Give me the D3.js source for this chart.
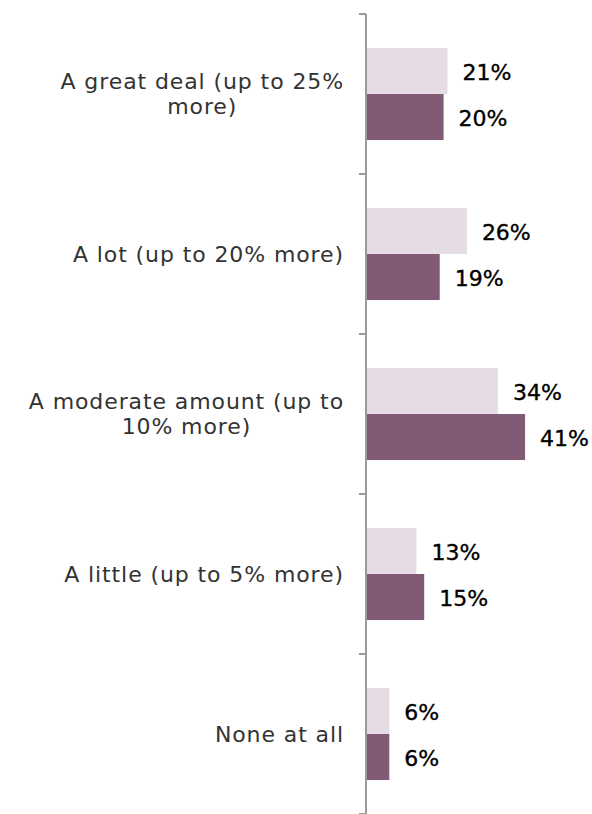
<!DOCTYPE html>
<html>
<head>
<meta charset="utf-8">
<script src="https://cdn.jsdelivr.net/npm/d3@7"></script>
<style>
  html, body { margin: 0; padding: 0; background: #fff; }
  svg { display: block; }
</style>
</head>
<body>
<svg id="chart" width="592" height="814"></svg>
<script>
// Answer categories (top to bottom)
const categories = [
  "A great deal (up to 25% more)",
  "A lot (up to 20% more)",
  "A moderate amount (up to 10% more)",
  "A little (up to 5% more)",
  "None at all"
];
// Wrapped display lines for each category label
const categoryLines = [
  ["A great deal (up to 25%", "more)"],
  ["A lot (up to 20% more)"],
  ["A moderate amount (up to", "10% more)"],
  ["A little (up to 5% more)"],
  ["None at all"]
];
// Two series, in percent
const seriesLight = [21, 26, 34, 13, 6];
const seriesDark  = [20, 19, 41, 15, 6];

const svg = d3.select("#chart");
const axisX = 366;
const plotTop = 14, plotBottom = 814;

const y = d3.scaleBand().domain(categories).range([plotTop, plotBottom]).paddingInner(0).paddingOuter(0);
const x = d3.scaleLinear().domain([0, 50]).range([axisX, axisX + 194]);

const barH = 46;
const colLight = "#e6dce4";
const colDark = "#825a75";
const labelFont = "'DejaVu Sans', sans-serif";

// Bars
const g = svg.append("g");
categories.forEach((c, i) => {
  const cy = y(c) + y.bandwidth() / 2;
  const rows = [
    { v: seriesLight[i], fill: colLight, y0: cy - barH },
    { v: seriesDark[i], fill: colDark, y0: cy }
  ];
  rows.forEach(r => {
    g.append("rect")
      .attr("x", x(0))
      .attr("y", r.y0)
      .attr("width", x(r.v) - x(0))
      .attr("height", barH)
      .attr("fill", r.fill);
    g.append("text")
      .attr("x", x(r.v) + 15)
      .attr("y", r.y0 + barH / 2)
      .attr("dy", "0.4em")
      .attr("font-family", labelFont)
      .attr("font-weight", 400)
      .attr("font-size", 22)
      .attr("fill", "#000")
      .attr("stroke", "#000")
      .attr("stroke-width", 0.35)
      .text(r.v + "%");
  });
});

// Vertical axis with band-boundary ticks
const axisG = svg.append("g");
axisG.append("line")
  .attr("x1", axisX).attr("x2", axisX)
  .attr("y1", plotTop).attr("y2", plotBottom)
  .attr("stroke", "#9a9a9a").attr("stroke-width", 2);
const boundaries = categories.map(c => y(c)).concat([plotBottom]);
axisG.selectAll("line.tick").data(boundaries).join("line")
  .attr("class", "tick")
  .attr("x1", axisX - 7).attr("x2", axisX)
  .attr("y1", d => d).attr("y2", d => d)
  .attr("stroke", "#9a9a9a").attr("stroke-width", 2);

// Category labels: lines centred on each other, block right-aligned to the axis
const labelRight = 344;
const lineH = 25;
categories.forEach((c, i) => {
  const lines = categoryLines[i];
  const cy = y(c) + y.bandwidth() / 2;
  const t = svg.append("text")
    .attr("font-family", labelFont)
    .attr("font-weight", 400)
    .attr("font-size", 22)
    .attr("letter-spacing", 0.9)
    .attr("fill", "#333")
    .attr("text-anchor", "middle");
  const spans = lines.map((ln, k) => t.append("tspan").text(ln));
  const widths = spans.map(s => s.node().getComputedTextLength());
  const maxW = d3.max(widths);
  const cx = labelRight - maxW / 2;
  const startY = cy - (lines.length - 1) * lineH / 2;
  spans.forEach((s, k) => s.attr("x", cx).attr("y", startY + k * lineH).attr("dy", "0.36em"));
});
</script>
</body>
</html>
